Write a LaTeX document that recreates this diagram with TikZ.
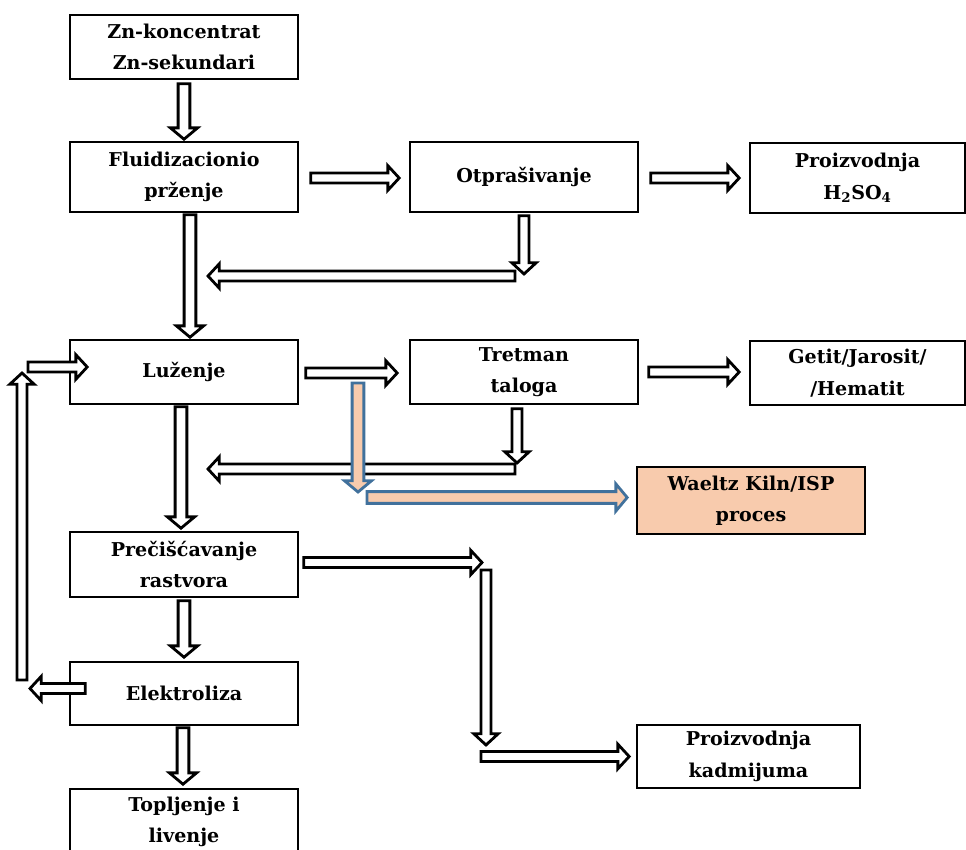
\documentclass[tikz,border=0pt]{standalone}
\usepackage{fontspec}
\setmainfont{DejaVu Serif}
\usetikzlibrary{calc}
\definecolor{peach}{HTML}{F8CBAD}
\definecolor{bblue}{HTML}{41719C}
\newcommand\px{0.75pt}
\newcommand\arrSW{3.7pt}
\newcommand\arrHW{9.2pt}
\newcommand\arrHL{8.5pt}
\newcommand\barrow[3][]{%
  \draw[barr,#1] let \p1=(#2), \p2=(#3), \n1={veclen(\x2-\x1,\y2-\y1)},
    \n2={(\x2-\x1)/\n1}, \n3={(\y2-\y1)/\n1} in
    ({\x1-(\n3)*\arrSW},{\y1+(\n2)*\arrSW}) --
    ({\x2-(\n2)*\arrHL-(\n3)*\arrSW},{\y2-(\n3)*\arrHL+(\n2)*\arrSW}) --
    ({\x2-(\n2)*\arrHL-(\n3)*\arrHW},{\y2-(\n3)*\arrHL+(\n2)*\arrHW}) --
    (\p2) --
    ({\x2-(\n2)*\arrHL+(\n3)*\arrHW},{\y2-(\n3)*\arrHL-(\n2)*\arrHW}) --
    ({\x2-(\n2)*\arrHL+(\n3)*\arrSW},{\y2-(\n3)*\arrHL-(\n2)*\arrSW}) --
    ({\x1+(\n3)*\arrSW},{\y1-(\n2)*\arrSW}) -- cycle;}
\tikzset{
  bx/.style 2 args={draw=black, line width=1.2pt, fill=white, inner sep=0pt,
    minimum width=#1*\px, minimum height=#2*\px, align=center,
    font=\fontsize{14.3}{23.5}\selectfont\bfseries},
  barr/.style={draw=black, fill=white, line width=2.1pt, line join=miter},
  big/.code={\def\arrSW{4.4pt}\def\arrHW{10.2pt}},
  bluearr/.style={draw=bblue, fill=peach, big}
}
\begin{document}
\begin{tikzpicture}[x=0.75pt, y=-0.75pt]
\path[use as bounding box] (0,0) rectangle (966,849);
\clip (0,0) rectangle (966,849);
% boxes
\node[bx={228}{64}] (zn) at (184,47) {Zn-koncentrat\\Zn-sekundari};
\node[bx={228}{70}] (flu) at (184,177) {Fluidizacionio\\prženje};
\node[bx={228}{70}] (otp) at (524,177) {Otprašivanje};
\node[bx={215}{70}] (h2so4) at (857.5,178) {Proizvodnja\\H\textsubscript{2}SO\textsubscript{4}};
\node[bx={228}{64}] (luz) at (184,372) {Luženje};
\node[bx={228}{64}] (tre) at (524,372) {Tretman\\taloga};
\node[bx={215}{64}] (get) at (857.5,373) {Getit/Jarosit/\\/Hematit};
\node[bx={228}{67}, fill=peach] (wae) at (751,500.5) {Waeltz Kiln/ISP\\proces};
\node[bx={228}{65}] (pre) at (184,564.5) {Prečišćavanje\\rastvora};
\node[bx={228}{63}] (ele) at (184,693.5) {Elektroliza};
\node[bx={228}{66}] (top) at (184,822) {Topljenje i\\livenje};
\node[bx={223}{63}] (kad) at (748.5,756.5) {Proizvodnja\\kadmijuma};
% free ends
\coordinate (c4) at (524,274);
\coordinate (c5a) at (515,276);
\coordinate (c5b) at (208,276);
\coordinate (c9) at (517,463);
\coordinate (c10a) at (515,469);
\coordinate (c10b) at (208,469);
\coordinate (b1a) at (358,383);
\coordinate (b1b) at (358,492);
\coordinate (b2a) at (367,497.5);
\coordinate (c13) at (482,562.5);
\coordinate (c14a) at (486,570);
\coordinate (c14b) at (486,745);
\coordinate (c15) at (481,756.5);
\coordinate (c17) at (30,688.5);
\coordinate (c18a) at (22,680);
\coordinate (c18b) at (22,373);
\coordinate (c19) at (28,367);
% arrows
\barrow[big]{$(zn.south)+(0,4)$}{$(flu.north)+(0,-2)$}
\barrow{$(flu.east)+(12,1)$}{$(otp.west)+(-10,1)$}
\barrow{$(otp.east)+(12,1)$}{$(h2so4.west)+(-10,0)$}
\barrow{$(otp.south)+(0,3)$}{c4}
\barrow{c5a}{c5b}
\barrow[big]{$(flu.south)+(6,2)$}{$(luz.north)+(6,-2)$}
\barrow{$(luz.east)+(7,1)$}{$(tre.west)+(-12,1)$}
\barrow{$(tre.east)+(10,0)$}{$(get.west)+(-10,-1)$}
\barrow{$(tre.south)+(-7,4)$}{c9}
\barrow{c10a}{c10b}
\barrow[bluearr]{b1a}{b1b}
\barrow[bluearr]{b2a}{$(wae.west)+(-9,-3)$}
\barrow[big]{$(luz.south)+(-3,2)$}{$(pre.north)+(-3,-3)$}
\barrow{$(pre.east)+(5,-2)$}{c13}
\barrow{c14a}{c14b}
\barrow{c15}{$(kad.west)+(-7,0)$}
\barrow[big]{$(pre.south)+(0,3)$}{$(ele.north)+(0,-4)$}
\barrow{$(ele.west)+(16,-5)$}{c17}
\barrow{c18a}{c18b}
\barrow{c19}{$(luz.west)+(18,-5)$}
\barrow[big]{$(ele.south)+(-1,2)$}{$(top.north)+(-1,-4)$}
\end{tikzpicture}
\end{document}
